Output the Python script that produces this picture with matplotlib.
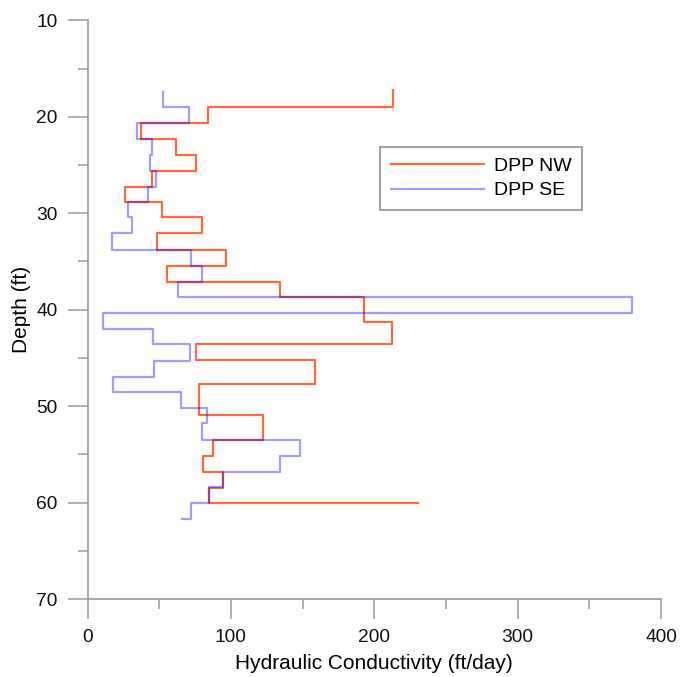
import matplotlib
matplotlib.use("Agg")
import matplotlib.pyplot as plt
from matplotlib.ticker import MultipleLocator

plt.rcParams['font.family'] = ['Liberation Sans', 'DejaVu Sans']

# DPP NW: depth at top of each interval (ft) and hydraulic conductivity (ft/day)
nw_depth = [17.23, 19.02, 20.68, 22.34, 24.00, 25.59, 27.25, 28.84, 30.43, 32.08,
            33.82, 35.44, 37.10, 38.72, 41.25, 43.56, 45.22, 47.74, 50.92, 53.51,
            55.17, 56.80, 58.46, 60.08]
nw_k = [213.2, 84.2, 37.3, 61.5, 75.5, 44.8, 26.4, 51.7, 80.1, 48.3,
        96.6, 55.2, 134.2, 193.0, 212.1, 75.5, 158.9, 78.0, 122.2, 87.7,
        80.3, 94.7, 84.9, 230.3]

# DPP SE
se_depth = [17.40, 19.02, 20.68, 22.34, 24.00, 25.59, 27.25, 28.84, 30.43, 32.08,
            33.82, 35.44, 37.10, 38.72, 40.38, 42.04, 43.59, 45.29, 46.95, 48.51,
            50.17, 51.78, 53.51, 55.17, 56.80, 58.42, 60.08, 61.74]
se_k = [52.9, 70.8, 34.3, 45.0, 43.6, 47.8, 42.4, 28.0, 31.2, 16.9,
        72.2, 79.6, 62.9, 379.9, 11.0, 45.5, 71.5, 46.4, 18.0, 65.0,
        83.1, 79.6, 148.2, 134.2, 94.7, 84.9, 72.2, 65.7]

series_labels = ["DPP NW", "DPP SE"]
x_label = "Hydraulic Conductivity (ft/day)"
y_label = "Depth (ft)"

fig = plt.figure(figsize=(6.8, 6.77), dpi=100)
ax = fig.add_axes([0.1287, 0.1152, 0.8434, 0.8548])

ax.plot(nw_k, nw_depth, drawstyle='steps-pre', color='#FF5A28', lw=1.6,
        alpha=0.9, label=series_labels[0])
ax.plot(se_k, se_depth, drawstyle='steps-pre', color='#0000FF', lw=1.6,
        alpha=0.38, label=series_labels[1])

ax.set_xlim(0, 400)
ax.set_ylim(70, 10)
ax.xaxis.set_major_locator(MultipleLocator(100))
ax.xaxis.set_minor_locator(MultipleLocator(50))
ax.yaxis.set_major_locator(MultipleLocator(10))
ax.yaxis.set_minor_locator(MultipleLocator(5))

grey = '#9a9a9a'
for s in ['top', 'right']:
    ax.spines[s].set_visible(False)
for s in ['left', 'bottom']:
    ax.spines[s].set_color(grey)
    ax.spines[s].set_linewidth(1.2)

ax.tick_params(which='major', direction='out', length=14.4, width=1.1,
               color=grey, labelsize=13.8, labelcolor='#111111', pad=7)
ax.tick_params(which='minor', direction='out', length=7.2, width=1.1, color=grey)

ax.set_xlabel(x_label, fontsize=15, labelpad=6)
ax.set_ylabel(y_label, fontsize=15, labelpad=4)

leg = ax.legend(loc='upper left', bbox_to_anchor=(0.510, 0.7816), borderaxespad=0,
                fontsize=14, handlelength=4.8, handletextpad=0.5, labelspacing=0.35,
                borderpad=0.55, fancybox=False, framealpha=1, edgecolor='#888888')
leg.get_frame().set_linewidth(1.1)

fig.savefig('out.png', dpi=100)
